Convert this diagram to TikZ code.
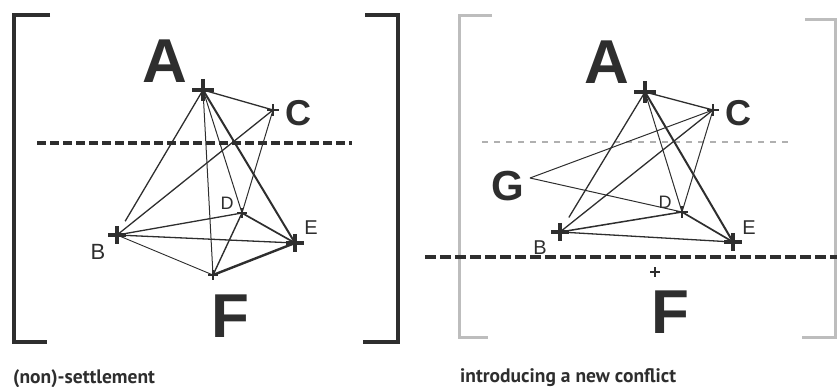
\documentclass[tikz,border=0pt]{standalone}
\usepackage{fontspec}
\setmainfont{Liberation Sans}
\newfontfamily\capfont{PT Sans}
\definecolor{ink}{HTML}{2E2E2E}
\definecolor{faint}{HTML}{BDBDBD}
\definecolor{faintdash}{HTML}{B0B0B0}
\tikzset{
  pics/plus/.style n args={2}{code={\draw[ink,line width=#2] (-#1,0) -- (#1,0) (0,-#1) -- (0,#1);}},
  bigletter/.style={font=\bfseries\fontsize{62}{62}\selectfont, text=ink, inner sep=0pt},
  midletter/.style={font=\bfseries\fontsize{36}{36}\selectfont, text=ink, inner sep=0pt},
  smallletter/.style={font=\fontsize{20}{20}\selectfont, text=ink, inner sep=0pt},
  link/.style={ink, line width=1.3pt},
  bracketdark/.style={ink, line width=4pt, line join=miter},
  bracketlight/.style={faint, line width=3pt, line join=miter},
  heavydash/.style={ink, line width=4pt, dash pattern=on 9pt off 4pt},
  lightdash/.style={faintdash, line width=2pt, dash pattern=on 6pt off 6pt},
  caption/.style={font=\capfont\bfseries\fontsize{19.5}{19.5}\selectfont, text=ink, anchor=base west, inner sep=0pt},
}
\begin{document}
\begin{tikzpicture}[x=1pt, y=-1pt]
\useasboundingbox (0,0) rectangle (837,387);

% ---------- left panel: (non)-settlement ----------
\draw[bracketdark] (50,15) -- (14,15) -- (14,342) -- (47,342);
\draw[bracketdark] (365,15) -- (398,15) -- (398,342) -- (363,342);

\coordinate (lA) at (203,90);
\coordinate (lC) at (273,110);
\coordinate (lD) at (242,213);
\coordinate (lE) at (295,243);
\coordinate (lB) at (117,235);
\coordinate (lF) at (213,275);
\coordinate (lmidL) at (37,143);
\coordinate (lmidR) at (352,143);

\draw[heavydash] (lmidL) -- (lmidR);

\draw[link] (lA) -- (lC);
\draw[link, shorten >=16pt] (lA) -- (lB);
\draw[link, line width=1.0pt] (lA) -- (lF);
\draw[link, line width=1.0pt] (lA) -- (lD);
\draw[link, line width=2pt] (lA) -- (lE);
\draw[link] (lC) -- (lB);
\draw[link, line width=1.0pt] (lC) -- (lD);
\draw[link, line width=1.4pt] (lD) -- (lF);
\draw[link] (lB) -- (lD);
\draw[link] (lB) -- (lE);
\draw[link, line width=0.9pt] (lB) -- (lF);
\draw[link, line width=1.7pt] (lD) -- (lE);
\draw[link, line width=2.4pt] (lE) -- (lF);

\pic at (lA) {plus={11}{4.5pt}};
\pic at (lC) {plus={6}{2pt}};
\pic at (lD) {plus={5}{2pt}};
\pic at (lE) {plus={9}{4pt}};
\pic at (lB) {plus={9}{4pt}};
\pic at (lF) {plus={5}{1.5pt}};

\node[bigletter] (lAt) at (165,61) {A};
\node[midletter] (lCt) at (298,113) {C};
\node[smallletter, font=\fontsize{18}{18}\selectfont] (lDt) at (227,203) {D};
\node[smallletter] (lEt) at (311,228) {E};
\node[smallletter, font=\fontsize{22}{22}\selectfont] (lBt) at (98,252) {B};
\node[bigletter] (lFt) at (230,316) {F};

\node[caption] (lcap) at (13,383) {(non)-settlement};

% ---------- right panel: introducing a new conflict ----------
\draw[bracketlight] (492,16) -- (459,16) -- (459,337) -- (488,337);
\draw[bracketlight] (805,20) -- (835,20) -- (835,337) -- (802,337);

\coordinate (rA) at (645,92);
\coordinate (rC) at (713,110);
\coordinate (rD) at (682,212);
\coordinate (rE) at (733,242);
\coordinate (rB) at (560,232);
\coordinate (rG) at (530,178);
\coordinate (rF) at (655,272);
\coordinate (rupL) at (482,142);
\coordinate (rupR) at (788,142);
\coordinate (rlowL) at (425,257);
\coordinate (rlowR) at (837,257);

\draw[lightdash] (rupL) -- (rupR);
\draw[heavydash, dash pattern=on 11pt off 4pt] (rlowL) -- (rlowR);

\draw[link] (rA) -- (rC);
\draw[link, shorten >=17pt] (rA) -- (rB);
\draw[link, line width=1.0pt] (rA) -- (rD);
\draw[link, line width=2pt] (rA) -- (rE);
\draw[link, line width=1.0pt] (rC) -- (rG);
\draw[link, line width=1.0pt] (rG) -- (rD);
\draw[link] (rC) -- (rB);
\draw[link, line width=1.0pt] (rC) -- (rD);
\draw[link, line width=1.5pt] (rB) -- (rD);
\draw[link] (rB) -- (rE);
\draw[link, line width=1.7pt] (rD) -- (rE);

\pic at (rA) {plus={11}{4.5pt}};
\pic at (rC) {plus={6}{2pt}};
\pic at (rD) {plus={6}{2pt}};
\pic at (rE) {plus={9}{4pt}};
\pic at (rB) {plus={9}{4pt}};
\pic at (rF) {plus={5}{1.5pt}};

\node[bigletter] (rAt) at (607,62) {A};
\node[midletter] (rCt) at (738,113) {C};
\node[midletter, font=\bfseries\fontsize{42}{42}\selectfont] (rGt) at (508,186) {G};
\node[smallletter, font=\fontsize{18}{18}\selectfont] (rDt) at (665,202) {D};
\node[smallletter] (rEt) at (749,228) {E};
\node[smallletter] (rBt) at (540,248) {B};
\node[bigletter] (rFt) at (670,312) {F};

\node[caption] (rcap) at (460,382) {introducing a new conflict};
\end{tikzpicture}
\end{document}
